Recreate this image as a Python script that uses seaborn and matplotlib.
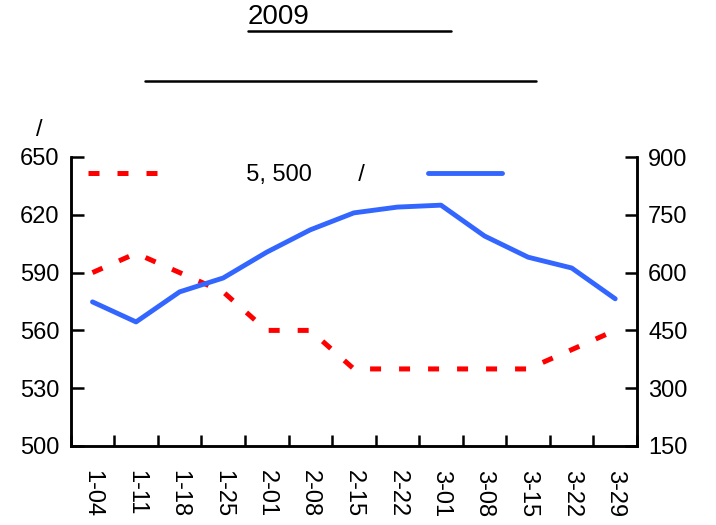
import numpy as np
import pandas as pd
import matplotlib
matplotlib.use("Agg")
import matplotlib.pyplot as plt
import seaborn as sns
from matplotlib.lines import Line2D

# weekly dates (Jan - Mar 2009)
weeks = ['1-04', '1-11', '1-18', '1-25', '2-01', '2-08', '2-15',
         '2-22', '3-01', '3-08', '3-15', '3-22', '3-29']
# left axis series (red dotted)
red_values = [590, 600, 590, 580, 560, 560, 540, 540, 540, 540, 540, 550, 560]
# right axis series (blue solid)
blue_values = [524, 472, 550, 586, 653, 711, 755, 770, 775, 695, 640, 612, 532]

left_ticks = [500, 530, 560, 590, 620, 650]
right_ticks = [150, 300, 450, 600, 750, 900]

# labels whose CJK text did not render in the reference
red_label = ' ' * 10 + '5, 500' + ' ' * 7 + '/'
blue_label = ' '

sns.set_theme(style='white')
plt.rcParams['font.family'] = ['Liberation Sans', 'DejaVu Sans']
plt.rcParams['text.color'] = 'black'
plt.rcParams['xtick.color'] = 'black'
plt.rcParams['ytick.color'] = 'black'
plt.rcParams['xtick.direction'] = 'in'
plt.rcParams['ytick.direction'] = 'in'

FS = 17

df = pd.DataFrame({'week': weeks, 'red': red_values, 'blue': blue_values})
df['pos'] = np.arange(len(weeks))

fig = plt.figure(figsize=(7.16, 5.25), dpi=100)
ax = fig.add_axes([70.7 / 716, 1 - 446 / 525, (637 - 70.7) / 716, (446 - 157) / 525])
ax2 = ax.twinx()

sns.lineplot(data=df, x='pos', y='red', ax=ax, color='#FF0000', linewidth=3.6,
             legend=False)
ax.lines[0].set_dashes((2.2, 3.6))
sns.lineplot(data=df, x='pos', y='blue', ax=ax2, color='#3366FF', linewidth=3.5,
             legend=False)

ax.set_xlim(-0.5, len(weeks) - 0.5)
ax.set_ylim(500, 650)
ax2.set_ylim(150, 900)
ax.set_yticks(left_ticks)
ax2.set_yticks(right_ticks)
ax.set_xticks(df['pos'])
ax.set_xticklabels(weeks, rotation=270, ha='center', va='top')
ax.set_xticks(np.arange(-0.5, len(weeks), 1), minor=True)
ax.set_xlabel('')
ax.set_ylabel('')
ax2.set_ylabel('')

ax.tick_params(axis='x', which='major', length=0, pad=17, labelsize=FS)
ax.tick_params(axis='x', which='minor', direction='in', length=8, width=1.8,
               bottom=True, top=False)
ax.tick_params(axis='y', which='both', direction='in', length=9, width=1.8,
               left=True, right=False, labelsize=FS, pad=8)
ax2.tick_params(axis='y', which='both', direction='in', length=9, width=1.8,
                right=True, left=False, labelsize=FS, pad=8)
ax2.tick_params(axis='x', which='both', bottom=False, top=False)

for a in (ax, ax2):
    a.spines['top'].set_visible(False)
    for side in ('left', 'right', 'bottom'):
        a.spines[side].set_color('black')
        a.spines[side].set_linewidth(1.8)
ax.grid(False)
ax2.grid(False)

handles = [Line2D([], [], color='#FF0000', linewidth=3.6, dashes=(2.2, 3.6)),
           Line2D([], [], color='#3366FF', linewidth=3.5)]
ax.legend(handles, [red_label, blue_label], loc='upper left', ncol=2,
          bbox_to_anchor=(0.03, 0.976), frameon=False, borderpad=0,
          borderaxespad=0, handlelength=3.1, handletextpad=0.8,
          columnspacing=2.7, fontsize=FS)

# axis unit (CJK part not rendered)
ax.text(-0.055, 1.095, '/', transform=ax.transAxes, fontsize=FS,
        ha='center', va='center')

# title and subtitle (CJK part not rendered, only underline visible)
fig.text(248 / 716, 1 - 4 / 525, '2009', fontsize=20, ha='left', va='top')
fig.add_artist(Line2D([248 / 716, 451 / 716], [1 - 31 / 525, 1 - 31 / 525],
                      color='black', linewidth=1.8))
fig.add_artist(Line2D([145 / 716, 536 / 716], [1 - 81 / 525, 1 - 81 / 525],
                      color='black', linewidth=1.8))

fig.savefig('out.png', dpi=100)
